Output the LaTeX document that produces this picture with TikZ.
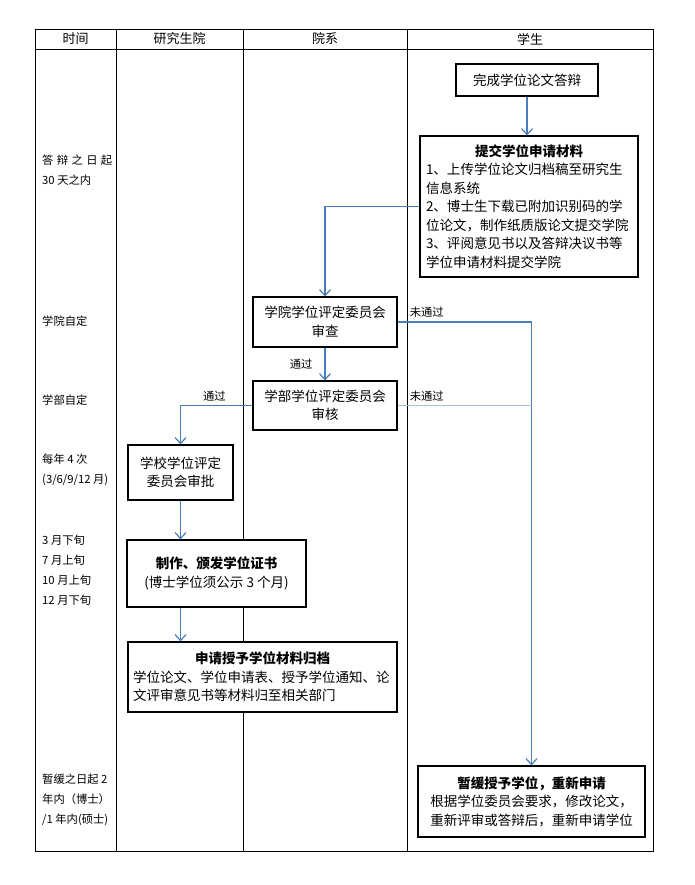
\documentclass[tikz,border=0pt]{standalone}
\usepackage{fontspec}
\setmainfont{Noto Sans CJK SC}
\usetikzlibrary{arrows.meta,calc}
\definecolor{arrblue}{HTML}{4A7EBB}
\definecolor{lightblue}{HTML}{A9BCD8}
\tikzset{
  box/.style={draw=black,fill=white,line width=1.1pt,inner sep=0pt,font=\fontsize{13.5}{18.5}\selectfont,align=center},
  arr/.style={draw=arrblue,line width=1.2pt,-{Straight Barb[length=6pt,width=11pt]}},
  lite/.style={draw=lightblue,line width=1.2pt},
  tlabel/.style={anchor=west,inner sep=0pt,font=\fontsize{11.3}{20}\selectfont,align=left},
  hdr/.style={inner sep=0pt,font=\fontsize{13}{14}\selectfont},
  elab/.style={inner sep=0pt,font=\fontsize{11.3}{12}\selectfont},
  grid/.style={draw=black,line width=0.9pt}
}
\begin{document}
\begin{tikzpicture}[x=1pt,y=-1pt]
\useasboundingbox (0,0) rectangle (695,885);
% table
\draw[grid] (35,29) rectangle (653,851);
\draw[grid] (35,49) -- (653,49);
\draw[grid] (116,29) -- (116,851);
\draw[grid] (243,29) -- (243,851);
\draw[grid] (407,29) -- (407,851);
% headers
\node[hdr] (h1) at (75.5,39) {时间};
\node[hdr] (h2) at (179.5,39) {研究生院};
\node[hdr] (h3) at (325,39) {院系};
\node[hdr] (h4) at (530,39) {学生};
% time labels
\node[tlabel] (t1) at (42,170) {答\hspace{0.3em}辩\hspace{0.3em}之\hspace{0.3em}日\hspace{0.3em}起\\30 天之内};
\node[tlabel] (t2) at (42,321) {学院自定};
\node[tlabel] (t3) at (42,400) {学部自定};
\node[tlabel] (t4) at (42,470) {每年 4 次\\(3/6/9/12 月)};
\node[tlabel] (t5) at (42,570) {3 月下旬\\7 月上旬\\10 月上旬\\12 月下旬};
\node[tlabel] (t6) at (42,800) {暂缓之日起 2\\年内（博士）\\/1 年内(硕士)};
% boxes
\node[box,minimum width=142pt,minimum height=32pt] (done) at (527,80) {完成学位论文答辩};
\node[box,minimum width=218pt,minimum height=141pt,text width=206pt,align=left] (submit) at (529,206.5)
  {{\centering\bfseries 提交学位申请材料\par}1、上传学位论文归档稿至研究生\\信息系统\\2、博士生下载已附加识别码的学\\位论文，制作纸质版论文提交学院\\3、评阅意见书以及答辩决议书等\\学位申请材料提交学院};
\node[box,minimum width=144pt,minimum height=50pt] (xy) at (325,322) {学院学位评定委员会\\审查};
\node[box,minimum width=144pt,minimum height=49pt] (xb) at (325,405.5) {学部学位评定委员会\\审核};
\node[box,minimum width=105pt,minimum height=55pt] (xx) at (180.5,472.5) {学校学位评定\\委员会审批};
\node[box,minimum width=179pt,minimum height=67pt] (zz) at (216.5,573.5) {\textbf{制作、颁发学位证书}\\(博士学位须公示 3 个月)};
\node[box,minimum width=269pt,minimum height=70pt,text width=259pt,align=left] (gd) at (262.5,677)
  {{\centering\bfseries 申请授予学位材料归档\par}学位论文、学位申请表、授予学位通知、论\\文评审意见书等材料归至相关部门};
\node[box,minimum width=227pt,minimum height=71pt] (zh) at (531.5,801.5)
  {\textbf{暂缓授予学位，重新申请}\\根据学位委员会要求，修改论文，\\重新评审或答辩后，重新申请学位};
% connectors
\draw[arr] (done.south) -- (done.south |- submit.north);
\draw[arr] (submit.west) -| (xy.north);
\draw[arr] (xy.south) -- node[elab,left=12pt] (l1) {通过} (xb.north);
\draw[arr] (xy.east) -| (zh.north);
\node[elab,anchor=south west] (l2) at ($(xy.east)+(12,-4)$) {未通过};
\coordinate (j) at (zh.north |- xb.east);
\draw[lite] (xb.east) -- (j);
\node[elab,anchor=south west] (l3) at ($(xb.east)+(12,-4)$) {未通过};
\draw[arr] (xb.west) -| (xx.north);
\node[elab,anchor=south] (l4) at ($(xb.west)+(-38,-4)$) {通过};
\draw[arr] (xx.south) -- (xx.south |- zz.north);
\draw[arr] (xx.south |- zz.south) -- (xx.south |- gd.north);
\end{tikzpicture}
\end{document}
